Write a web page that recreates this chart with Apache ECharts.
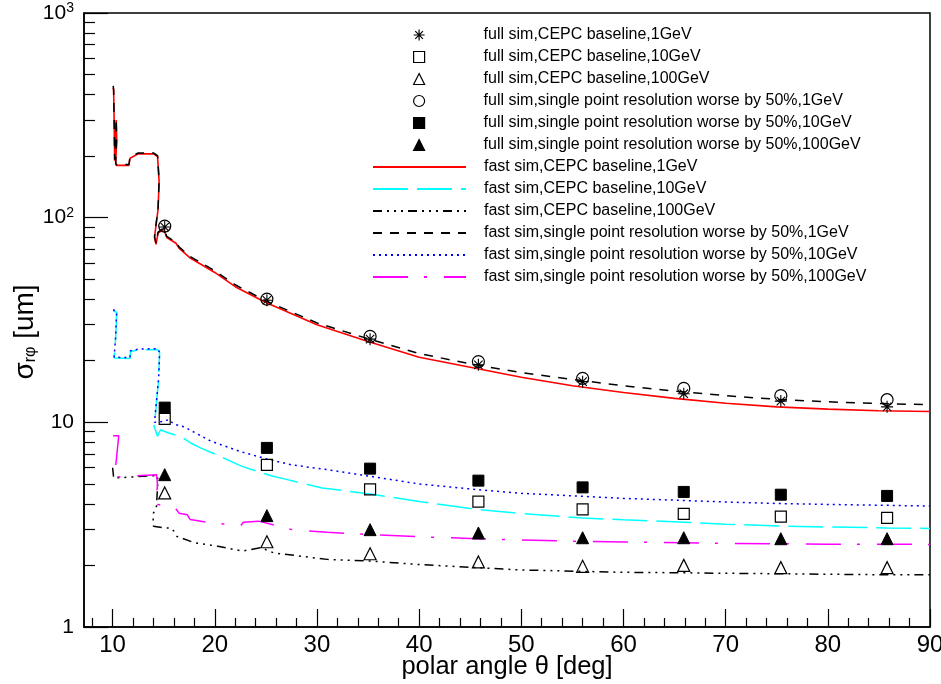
<!DOCTYPE html>
<html><head><meta charset="utf-8">
<script src="https://cdn.jsdelivr.net/npm/echarts@6/dist/echarts.min.js"></script>
<style>html,body{margin:0;padding:0;background:#fff}#c{width:941px;height:684px}</style>
</head><body><div id="c"></div>
<script>
const FONT = '"Liberation Sans", Arial, Helvetica, sans-serif';

// polar angles of the full-simulation points (deg)
const fullAngles = [15.1, 25.1, 35.2, 45.8, 56.0, 65.9, 75.4, 85.8];
// full sim values (um)
const fullBase1    = [90, 39.5, 25.5, 19.1, 15.8, 13.8, 12.7, 11.9];
const fullBase10   = [10.4, 6.2, 4.7, 4.1, 3.76, 3.57, 3.46, 3.41];
const fullBase100  = [4.52, 2.61, 2.28, 2.08, 1.98, 2.0, 1.95, 1.95];
const fullWorse1   = [91, 40, 26.3, 19.8, 16.4, 14.65, 13.5, 12.9];
const fullWorse10  = [11.8, 7.5, 5.94, 5.19, 4.81, 4.57, 4.43, 4.37];
const fullWorse100 = [5.55, 3.5, 2.99, 2.88, 2.73, 2.73, 2.7, 2.7];

// fast sim curves [angle, sigma]
const fastBase1 = [[10.05,430],[10.1,420],[10.15,300],[10.2,190],[10.3,240],[10.35,300],[10.4,240],[10.3,185],[10.35,180],[11.6,180],[11.7,195],[12.5,205],[14.0,205],[14.4,199],[14.55,150],[14.45,110],[14.1,80],[14.25,74],[14.45,84],[15.0,88],[15.3,80],[16.2,75],[16.5,71],[17.6,63.5],[20,54],[22,46],[25,38.5],[30,30],[35,24.8],[40,20.8],[45,18.6],[50,16.6],[55,15.1],[60,14.0],[65,13.1],[70,12.4],[75,11.9],[80,11.6],[85,11.4],[90,11.3]];
const fastWorse1 = [[10.05,440],[10.1,425],[10.15,305],[10.2,192],[10.3,245],[10.35,305],[10.4,242],[10.3,187],[10.35,182],[11.6,182],[11.7,197],[12.5,207],[14.0,207],[14.4,201],[14.55,152],[14.45,111],[14.1,81],[14.25,75],[14.45,85],[15.0,89],[15.3,81],[16.2,76],[16.5,72],[17.6,64.5],[20,55],[22,47],[25,39.2],[30,30.6],[35,25.6],[40,21.7],[45,19.3],[50,17.5],[55,16.2],[60,15.1],[65,14.2],[70,13.5],[75,12.95],[80,12.6],[85,12.35],[90,12.2]];
const fastBase10 = [[10.05,35],[10.4,34.5],[10.3,26],[10.15,20.6],[11.7,20.5],[11.75,22.2],[12.6,22.6],[14.4,22.7],[14.6,21.9],[14.5,16.2],[14.2,11.1],[14.05,9.6],[14.4,8.55],[14.7,9.2],[15.4,8.9],[16.7,8.5],[17.6,7.95],[18.6,7.5],[20,7.0],[21.9,6.34],[22.8,6.06],[25.7,5.45],[27.1,5.25],[30.5,4.78],[35.2,4.47],[40,4.1],[45.7,3.75],[50,3.58],[56,3.41],[60,3.34],[66,3.25],[70,3.18],[75.4,3.11],[80,3.08],[85.8,3.05],[90,3.03]];
const fastWorse10 = [[10.05,35.5],[10.4,34.8],[10.3,26.3],[10.15,20.8],[11.7,20.7],[11.75,22.4],[12.6,22.8],[14.4,22.9],[14.6,22.0],[14.5,16.3],[14.2,11.3],[14.1,10.0],[14.8,10.1],[15.5,10.3],[16.0,9.8],[17.0,9.5],[19.6,8.1],[22.5,7.2],[25.2,6.6],[27.5,6.2],[31,5.87],[35.2,5.45],[40,5.0],[45.7,4.69],[50,4.5],[56,4.35],[60,4.25],[66,4.15],[70,4.08],[75.4,4.01],[80,3.97],[85.8,3.93],[90,3.9]];
const fastBase100 = [[10.0,6.0],[10.05,5.7],[10.1,5.35],[11.7,5.4],[14.4,5.5],[14.4,4.9],[14.3,3.9],[14.0,3.6],[13.95,3.2],[14.0,3.11],[15.0,3.05],[15.7,3.05],[16.0,2.94],[16.3,2.77],[18.0,2.58],[20.3,2.48],[22.7,2.35],[24.5,2.44],[25.8,2.30],[31,2.14],[35.2,2.10],[40,2.02],[45.7,1.95],[50,1.90],[56,1.87],[60,1.85],[66,1.84],[70,1.83],[75.4,1.82],[80,1.81],[85.8,1.80],[90,1.80]];
const fastWorse100 = [[10.05,8.6],[10.6,8.6],[10.3,6.1],[10.1,5.4],[11.7,5.45],[14.3,5.55],[14.4,4.96],[14.2,3.97],[16.0,3.9],[16.5,3.6],[17.3,3.54],[17.6,3.35],[19.6,3.23],[21.5,3.17],[22.5,3.11],[22.8,3.25],[24.3,3.29],[27.4,3.0],[31,2.9],[35,2.83],[40,2.76],[45.7,2.70],[50,2.66],[56,2.62],[60,2.60],[66,2.58],[70,2.56],[75.4,2.55],[80,2.54],[85.8,2.54],[90,2.53]];

// axis ticks
const xMajor = [10, 20, 30, 40, 50, 60, 70, 80, 90];
const xMinor = [8, 12, 14, 16, 18, 22, 24, 26, 28, 32, 34, 36, 38, 42, 44, 46, 48, 52, 54, 56, 58, 62, 64, 66, 68, 72, 74, 76, 78, 82, 84, 86, 88];
const yMajor = [1, 10, 100, 1000];
const yMinor = [2, 3, 4, 5, 6, 7, 8, 9, 20, 30, 40, 50, 60, 70, 80, 90, 200, 300, 400, 500, 600, 700, 800, 900];

const names = [
  'full sim,CEPC baseline,1GeV',
  'full sim,CEPC baseline,10GeV',
  'full sim,CEPC baseline,100GeV',
  'full sim,single point resolution worse by 50%,1GeV',
  'full sim,single point resolution worse by 50%,10GeV',
  'full sim,single point resolution worse by 50%,100GeV',
  'fast sim,CEPC baseline,1GeV',
  'fast sim,CEPC baseline,10GeV',
  'fast sim,CEPC baseline,100GeV',
  'fast sim,single point resolution worse by 50%,1GeV',
  'fast sim,single point resolution worse by 50%,10GeV',
  'fast sim,single point resolution worse by 50%,100GeV'
];

const STAR = 'path://M0,5L10,5M5,0L5,10M1.5,1.5L8.5,8.5M1.5,8.5L8.5,1.5';
const pts = vals => fullAngles.map((a, i) => [a, vals[i]]);
const hollow = {color: 'rgba(0,0,0,0)', borderColor: '#000', borderWidth: 1.2, opacity: 1};
const filled = {color: '#000', borderColor: '#000', borderWidth: 1, opacity: 1};

function scat(name, vals, symbol, size, style) {
  return {name, type: 'scatter', data: pts(vals), symbol, symbolSize: size, symbolKeepAspect: true, itemStyle: style, z: 5, silent: true};
}
function line(name, data, color, dash, width) {
  return {name, type: 'line', data, symbol: 'none', showSymbol: false, smooth: false,
    lineStyle: {color, width: width || 1.5, type: dash}, itemStyle: {color}, z: 3, silent: true};
}

const series = [
  scat(names[0], fullBase1, STAR, 12, {color: '#000', borderColor: '#000', borderWidth: 1.1, opacity: 1}),
  scat(names[1], fullBase10, 'rect', 11, hollow),
  scat(names[2], fullBase100, 'triangle', 12, hollow),
  scat(names[3], fullWorse1, 'circle', 12, hollow),
  scat(names[4], fullWorse10, 'rect', 11, filled),
  scat(names[5], fullWorse100, 'triangle', 12, filled),
  line(names[6], fastBase1, '#ff0000', 'solid', 1.6),
  line(names[7], fastBase10, '#00ffff', [35, 9]),
  line(names[8], fastBase100, '#000000', [9, 5, 2, 5, 2, 5, 2, 5]),
  line(names[9], fastWorse1, '#000000', [9, 8]),
  line(names[10], fastWorse10, '#0000ff', [2, 4]),
  line(names[11], fastWorse100, '#ff00ff', [35, 16, 3, 17])
];

const legendText = {fontFamily: FONT, fontSize: 16, color: '#000'};

const chart = echarts.init(document.getElementById('c'), null, {renderer: 'canvas'});
chart.setOption({
  animation: false,
  backgroundColor: '#fff',
  textStyle: {fontFamily: FONT},
  grid: {left: 84, right: 11, top: 13, bottom: 57, show: true, borderColor: '#000', borderWidth: 1.5, outerBoundsMode: 'none', containLabel: false},
  legend: [{
    orient: 'vertical', left: 413, top: 27, padding: 0,
    itemWidth: 11, itemHeight: 11, itemGap: 6, symbolKeepAspect: true,
    selectedMode: false, data: names.slice(0, 6),
    itemStyle: {borderWidth: 1.2},
    textStyle: Object.assign({padding: [0, 0, 0, 54]}, legendText)
  }, {
    orient: 'vertical', left: 372, top: 159, padding: 0,
    itemWidth: 93, itemHeight: 12, itemGap: 6,
    selectedMode: false, data: names.slice(6),
    itemStyle: {color: 'rgba(0,0,0,0)', borderWidth: 0, borderColor: 'rgba(0,0,0,0)'},
    textStyle: Object.assign({padding: [0, 0, 0, 13]}, legendText)
  }],
  xAxis: [{
    type: 'value', min: 7.2, max: 90, position: 'bottom',
    name: 'polar angle θ [deg]', nameLocation: 'middle', nameGap: 27, nameMoveOverlap: false,
    nameTextStyle: {fontFamily: FONT, fontSize: 25.5, color: '#000'},
    axisLine: {show: true, onZero: false, lineStyle: {color: '#000', width: 1.5}},
    axisTick: {show: true, inside: true, length: 18, customValues: xMajor, lineStyle: {color: '#000', width: 1.2}},
    axisLabel: {show: true, customValues: xMajor, margin: 6, fontFamily: FONT, fontSize: 24, color: '#000'},
    splitLine: {show: false}
  }, {
    type: 'value', min: 7.2, max: 90, position: 'bottom',
    axisLine: {show: false, onZero: false},
    axisTick: {show: true, inside: true, length: 9, customValues: xMinor, lineStyle: {color: '#000', width: 1.2}},
    axisLabel: {show: false},
    splitLine: {show: false}
  }],
  yAxis: [{
    type: 'log', logBase: 10, min: 1, max: 1000, position: 'left',
    name: '{b|σ}{s|rφ}{b| [um]}', nameLocation: 'middle', nameGap: 45, nameRotate: 90, nameMoveOverlap: false,
    nameTextStyle: {color: '#000', padding: [0, 24, 0, 0], rich: {b: {fontFamily: FONT, fontSize: 28, color: '#000'}, s: {fontFamily: FONT, fontSize: 16, color: '#000', verticalAlign: 'bottom', padding: [11, 0, 0, 0]}}},
    axisLine: {show: true, onZero: false, lineStyle: {color: '#000', width: 1.5}},
    axisTick: {show: true, inside: true, length: 24, customValues: yMajor, lineStyle: {color: '#000', width: 1.2}},
    axisLabel: {
      show: true, customValues: yMajor, margin: 10, color: '#000',
      formatter: v => {
        const r = Math.round(v);
        if (r >= 100) return '{b|10}{s|' + Math.round(Math.log10(r)) + '}';
        return '{b|' + r + '}';
      },
      rich: {b: {fontFamily: FONT, fontSize: 21, color: '#000'}, s: {fontFamily: FONT, fontSize: 14, color: '#000', verticalAlign: 'top', padding: [0, 0, 10, 0]}}
    },
    splitLine: {show: false}, minorTick: {show: false}
  }, {
    type: 'log', logBase: 10, min: 1, max: 1000, position: 'left',
    axisLine: {show: false, onZero: false},
    axisTick: {show: true, inside: true, length: 11, customValues: yMinor, lineStyle: {color: '#000', width: 1.2}},
    axisLabel: {show: false},
    splitLine: {show: false}
  }],
  series: series.map(s => Object.assign(s, {xAxisIndex: 0, yAxisIndex: 0}))
});
</script></body></html>
